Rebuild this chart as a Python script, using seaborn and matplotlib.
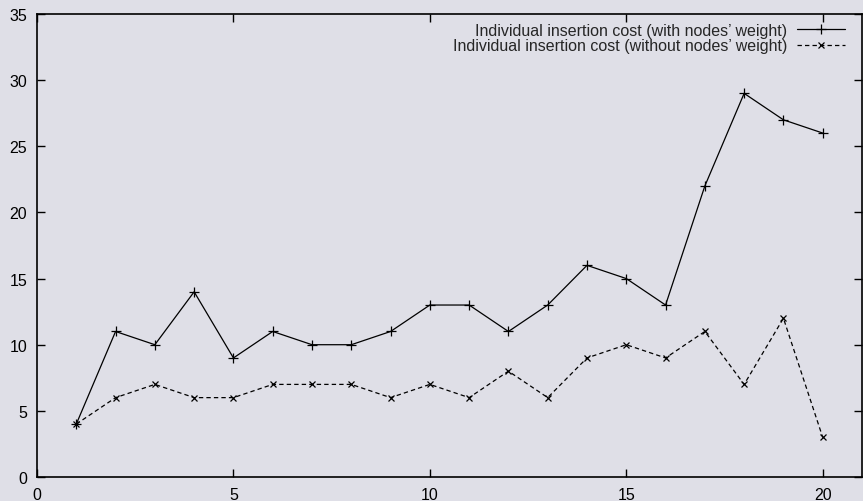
import matplotlib
matplotlib.use("Agg")
import matplotlib.pyplot as plt
import seaborn as sns
import pandas as pd

x = list(range(1, 21))
with_weight = [4, 11, 10, 14, 9, 11, 10, 10, 11, 13, 13, 11, 13, 16, 15, 13, 22, 29, 27, 26]
without_weight = [4, 6, 7, 6, 6, 7, 7, 7, 6, 7, 6, 8, 6, 9, 10, 9, 11, 7, 12, 3]
labels = ["Individual insertion cost (with nodes\u2019 weight)",
          "Individual insertion cost (without nodes\u2019 weight)"]

sns.set_style("ticks")
plt.rcParams['font.family'] = ['Liberation Sans', 'DejaVu Sans']
bg = '#dfdfe7'

fig = plt.figure(figsize=(8.63, 5.02), dpi=100, facecolor=bg)
ax = fig.add_axes([37/863, 24/502, 825/863, 463/502])
ax.set_facecolor(bg)

df = pd.DataFrame({"x": x, "w": with_weight, "wo": without_weight})
sns.lineplot(data=df, x="x", y="w", ax=ax, color='black', lw=0.9, marker='+',
             markersize=6.5, markeredgewidth=0.9, markeredgecolor='black',
             label=labels[0])
sns.lineplot(data=df, x="x", y="wo", ax=ax, color='black', lw=0.9, marker='x',
             markersize=5, markeredgewidth=0.9, markeredgecolor='black',
             linestyle=(0, (3.5, 2.5)), label=labels[1])

ax.set_xlim(0, 21)
ax.set_ylim(0, 35)
ax.set_xticks([0, 5, 10, 15, 20])
ax.set_yticks(range(0, 36, 5))
ax.set_xlabel("")
ax.set_ylabel("")
ax.tick_params(direction='in', top=True, right=True, length=6, width=1,
               labelsize=11.5, colors='black', pad=7)
for s in ax.spines.values():
    s.set_linewidth(1.2)
    s.set_color('black')

leg = ax.legend(loc='upper right', frameon=False, markerfirst=False, fontsize=11.5,
                handlelength=3.0, handletextpad=0.6, labelspacing=0.02,
                borderaxespad=0.15, bbox_to_anchor=(0.99, 1.0))

fig.savefig("out.png", dpi=100, facecolor=bg)
